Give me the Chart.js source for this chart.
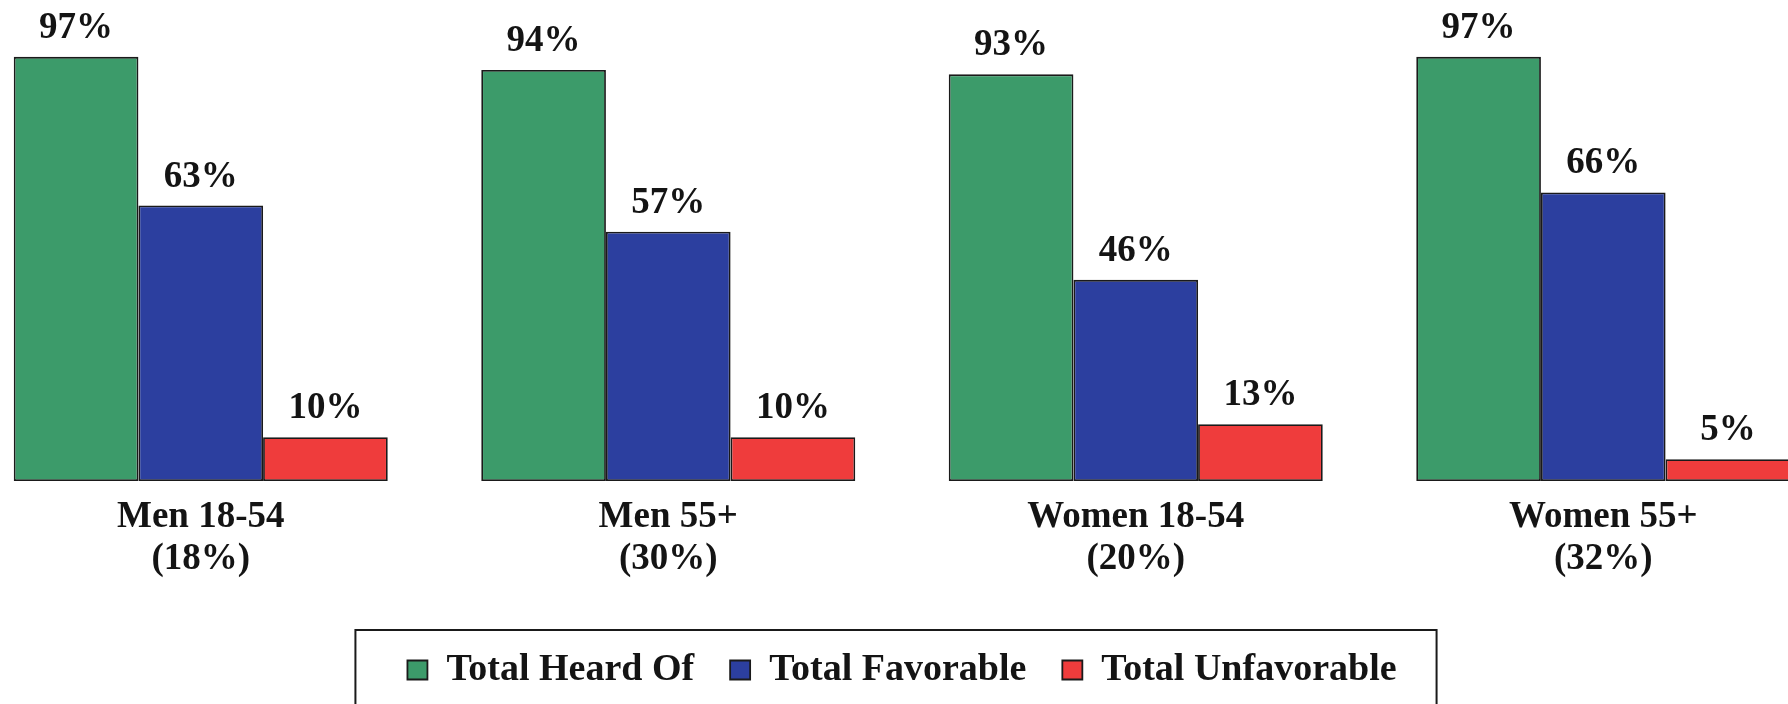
<!DOCTYPE html>
<html><head><meta charset="utf-8">
<script src="https://cdn.jsdelivr.net/npm/chart.js@4.4.0/dist/chart.umd.min.js"></script>
<style>
html,body{margin:0;padding:0;background:#fff;overflow:hidden;width:1788px;height:704px;}
#wrap{position:absolute;left:-33px;top:0;width:1870px;height:704px;}
</style></head><body>
<div id="wrap"><canvas id="c" width="1870" height="704"></canvas></div>
<script>
const categories = [["Men 18-54","(18%)"],["Men 55+","(30%)"],["Women 18-54","(20%)"],["Women 55+","(32%)"]];
const seriesNames = ["Total Heard Of","Total Favorable","Total Unfavorable"];
const heardOf = [97,94,93,97];
const favorable = [63,57,46,66];
const unfavorable = [10,10,13,5];
const seriesColors = ["#3c9b6a","#2c3f9f","#ef3c3c"];

Chart.defaults.font.family = "'Liberation Serif','Times New Roman',serif";
Chart.defaults.color = "#141414";

const valueLabels = {
  id:'valueLabels',
  afterDatasetsDraw(chart){
    const ctx = chart.ctx;
    ctx.save();
    ctx.font = "bold 37px 'Liberation Serif','Times New Roman',serif";
    ctx.fillStyle = "#141414";
    ctx.textAlign = 'center';
    ctx.textBaseline = 'alphabetic';
    chart.data.datasets.forEach((ds,i)=>{
      chart.getDatasetMeta(i).data.forEach((bar,j)=>{
        ctx.fillText(ds.data[j] + '%', bar.x, bar.y - 19);
      });
    });
    ctx.restore();
  }
};

const legendFrame = {
  id:'legendFrame',
  afterDraw(chart){
    const lg = chart.legend;
    if(!lg || !lg.legendHitBoxes.length) return;
    const hb = lg.legendHitBoxes;
    const left = Math.min(...hb.map(h=>h.left)) - 52;
    const right = Math.max(...hb.map(h=>h.left+h.width)) + 40;
    const top = Math.min(...hb.map(h=>h.top)) - 21;
    const ctx = chart.ctx;
    ctx.save();
    ctx.strokeStyle = '#1a1a1a';
    ctx.lineWidth = 2;
    ctx.strokeRect(left, top, right-left, chart.height + 20 - top);
    ctx.restore();
  }
};

const datasets = [heardOf, favorable, unfavorable].map((vals,i)=>({
  label: seriesNames[i],
  data: vals,
  backgroundColor: seriesColors[i],
  borderColor: '#1a1a1a',
  borderWidth: 1.8,
  borderSkipped: false,
  barPercentage: 1.0,
  categoryPercentage: 0.8
}));

new Chart(document.getElementById('c'), {
  type:'bar',
  data:{labels:categories, datasets},
  options:{
    responsive:false,
    animation:false,
    layout:{padding:{top:0,bottom:5,left:0,right:0}},
    plugins:{
      legend:{
        position:'bottom',
        labels:{boxWidth:20, boxHeight:19, padding:36, color:'#141414', font:{size:38, weight:'bold'}}
      },
      tooltip:{enabled:false}
    },
    scales:{
      x:{
        grid:{display:false, drawTicks:false},
        border:{display:false},
        ticks:{padding:15, color:'#141414', maxRotation:0, autoSkip:false, font:{size:37, weight:'bold', lineHeight:'42px'}},
        afterFit(s){ s.height += 20; }
      },
      y:{display:false, min:0, max:110}
    }
  },
  plugins:[valueLabels, legendFrame]
});
</script>
</body></html>
